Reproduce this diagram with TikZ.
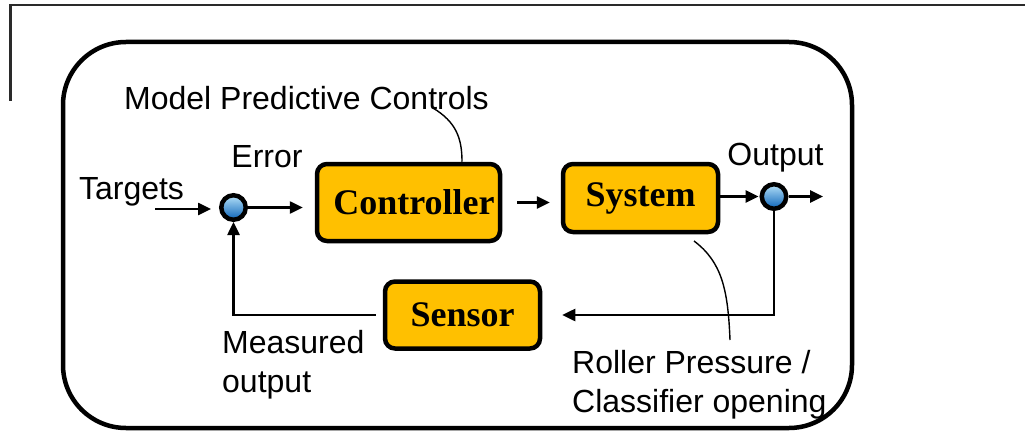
\documentclass[tikz,border=0pt]{standalone}
\usepackage{fontspec}
\setmainfont{Liberation Sans}
\newfontfamily\blockfont{Liberation Serif}
\usetikzlibrary{arrows.meta,calc}
\definecolor{blockfill}{HTML}{FFC000}
\definecolor{balltop}{HTML}{B4E0F8}
\definecolor{ballbot}{HTML}{0A63B8}
\definecolor{framegray}{HTML}{2A2A2A}
\begin{document}
\begin{tikzpicture}[x=1pt,y=-1pt,
  blk/.style={draw=black, line width=4.5pt, fill=blockfill, rounded corners=10pt,
    inner sep=0pt, font=\blockfont\bfseries\fontsize{36}{40}\selectfont},
  sumpt/.style={circle, draw=black, line width=4.5pt, minimum size=24.5pt, inner sep=0pt,
    top color=balltop, bottom color=ballbot},
  lbl/.style={font=\fontsize{32}{39}\selectfont, inner sep=0pt},
  arr/.style={line width=2.5pt, -{Triangle[length=13pt,width=12pt]}},
  callout/.style={line width=1.4pt}]
\useasboundingbox (0,0) rectangle (1025,433);

% page frame
\draw[framegray, line width=2.5pt] (10.5,101) -- (10.5,5) -- (1025,5);

% enclosing rounded panel
\draw[line width=4.5pt, rounded corners=63pt] (63,42) rectangle (852,428);

% blocks
\node[blk, minimum width=183pt, minimum height=77pt] (ctrl) at (408.5,202.5) {\hspace*{11pt}Controller};
\node[blk, minimum width=155pt, minimum height=68pt] (sys) at (640.5,198) {System};
\node[blk, minimum width=155pt, minimum height=67pt] (sen) at (462.5,315) {Sensor};

% summing points
\node[sumpt] (err) at (233.5,207.5) {};
\node[sumpt] (out) at (774,196.5) {};

% free ends
\coordinate (tin) at (155,209);
\coordinate (oend) at (823,196.5);

% signal flow
\draw[arr, shorten >=8pt] (tin) -- (tin -| err.west);
\draw[arr, shorten >=12pt] (err.east) -- (ctrl.west |- err.east);
\draw[arr, shorten <=15pt, shorten >=11pt] (ctrl.east) -- (ctrl.east -| sys.west);
\draw[arr, shorten >=1pt] (sys.east |- out) -- (out.west);
\draw[arr] (out.east) -- (oend);
\draw[arr, shorten >=20pt] (out.south) |- (sen.east);
\draw[arr, shorten <=7pt] (sen.west) -| (err.south);

% labels
\node[lbl, anchor=base] (mpc) at (306.5,110) {Model Predictive Controls};
\node[lbl, anchor=base] (errl) at (267,167) {Error};
\node[lbl, anchor=base] (tgt) at (131.5,199) {Targets};
\node[lbl, anchor=base] (outl) at (775.5,165) {Output};
\node[lbl, anchor=base west, align=left] (meas) at (222,392) {Measured\\output};
\node[lbl, anchor=base west, align=left] (roll) at (572,412) {Roller Pressure /\\Classifier opening};

% callout leaders
\coordinate (mpcfoot) at (433,108);
\coordinate (rollfoot) at (730,340);
\draw[callout] (mpcfoot) .. controls (456,122) and (462,138) .. (ctrl.north -| 462,0);
\draw[callout] (694,241) .. controls (722,262) and (728,290) .. (rollfoot);
\end{tikzpicture}
\end{document}
